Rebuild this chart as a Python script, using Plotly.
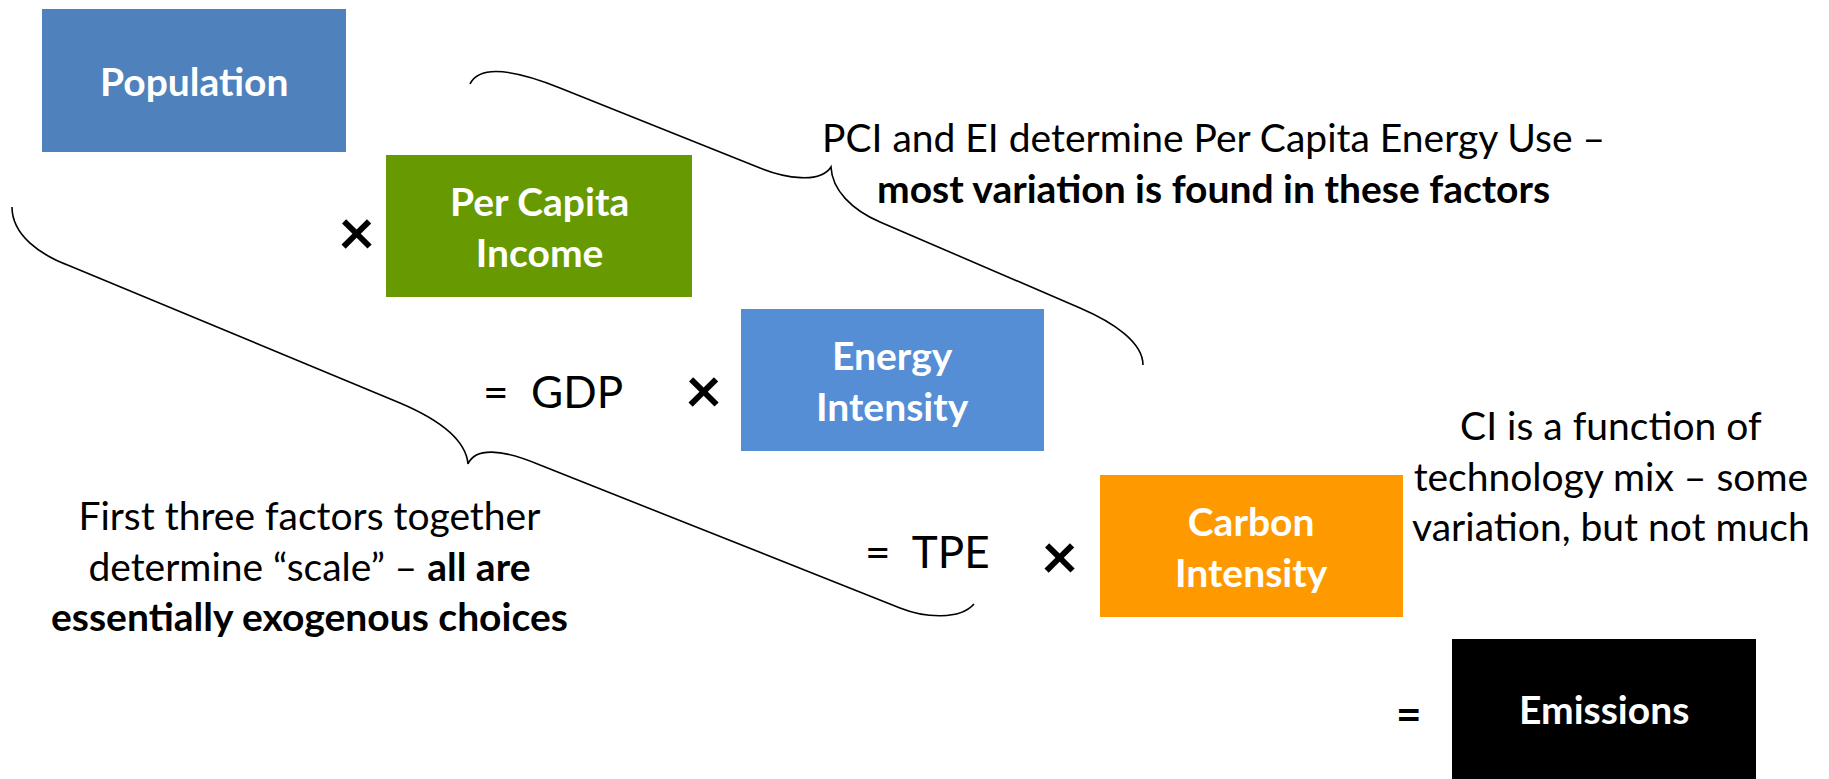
import plotly.graph_objects as go

# ---- content ----
factor_labels = ["Population", "Per Capita<br>Income", "Energy<br>Intensity", "Carbon<br>Intensity", "Emissions"]
operator_labels = ["×", "=  GDP", "×", "=  TPE", "×", "="]
note_labels = [
    "PCI and EI determine Per Capita Energy Use –<br><b>most variation is found in these factors</b>",
    "CI is a function of<br>technology mix – some<br>variation, but not much",
    "First three factors together<br>determine “scale” – <b>all are</b><br><b>essentially exogenous choices</b>",
]

# ---- layout (pixel canvas) ----
W, H = 1829, 779
box_rects = [(42, 9, 346, 152), (386, 155, 692, 297), (741, 309, 1044, 451),
             (1100, 475, 1403, 617), (1452, 639, 1756, 779)]
box_colors = ["#4F81BD", "#669A00", "#558ED5", "#FF9900", "#000000"]
op_pos = [(356, 230), (553, 391), (703, 388), (927, 551), (1059, 554), (1409, 713)]
op_bold = [True, False, True, False, True, True]
note_pos = [(1213, 162), (1611, 475), (309, 565)]

brace_paths = [
    "M 470,84 C 478,68 505,66 560,88 L 760,168 C 785,178 820,184 831,167 "
    "C 832,190 852,210 880,222 L 1080,308 C 1115,323 1143,343 1143,365",
    "M 12,207 C 12,235 40,255 70,266 L 400,403 C 440,420 466,440 468,464 "
    "C 475,448 500,448 540,465 L 900,608 C 925,618 960,620 974,604",
]

FONT = "Lato"
fig = go.Figure()
shapes = []
for (x0, y0, x1, y1), c in zip(box_rects, box_colors):
    shapes.append(dict(type="rect", xref="x", yref="y", x0=x0, y0=y0, x1=x1, y1=y1,
                       fillcolor=c, line=dict(width=0), layer="below"))
for p in brace_paths:
    shapes.append(dict(type="path", xref="x", yref="y", path=p,
                       line=dict(color="black", width=1.6)))

annotations = []
for (x0, y0, x1, y1), lab in zip(box_rects, factor_labels):
    annotations.append(dict(x=(x0 + x1) / 2, y=(y0 + y1) / 2, xref="x", yref="y",
                            text=f"<b>{lab}</b>", showarrow=False, align="center",
                            font=dict(family=FONT, size=39, color="white")))
for (x, y), lab, b in zip(op_pos, operator_labels, op_bold):
    size = 64 if lab == "×" else 44
    txt = f"<b>{lab}</b>" if b else lab
    annotations.append(dict(x=x, y=y, xref="x", yref="y", text=txt, showarrow=False,
                            font=dict(family=FONT, size=size, color="black")))
for (x, y), lab in zip(note_pos, note_labels):
    annotations.append(dict(x=x, y=y, xref="x", yref="y", text=lab, showarrow=False,
                            align="center", font=dict(family=FONT, size=39, color="black")))

fig.update_layout(
    width=W, height=H, autosize=False,
    margin=dict(l=0, r=0, t=0, b=0),
    paper_bgcolor="white", plot_bgcolor="white",
    xaxis=dict(range=[0, W], visible=False, fixedrange=True),
    yaxis=dict(range=[H, 0], visible=False, fixedrange=True),
    shapes=shapes, annotations=annotations, showlegend=False,
)
fig.write_html("out.html", config={"displayModeBar": False},
               post_script="document.body.style.margin='0';document.body.style.overflow='hidden';")
